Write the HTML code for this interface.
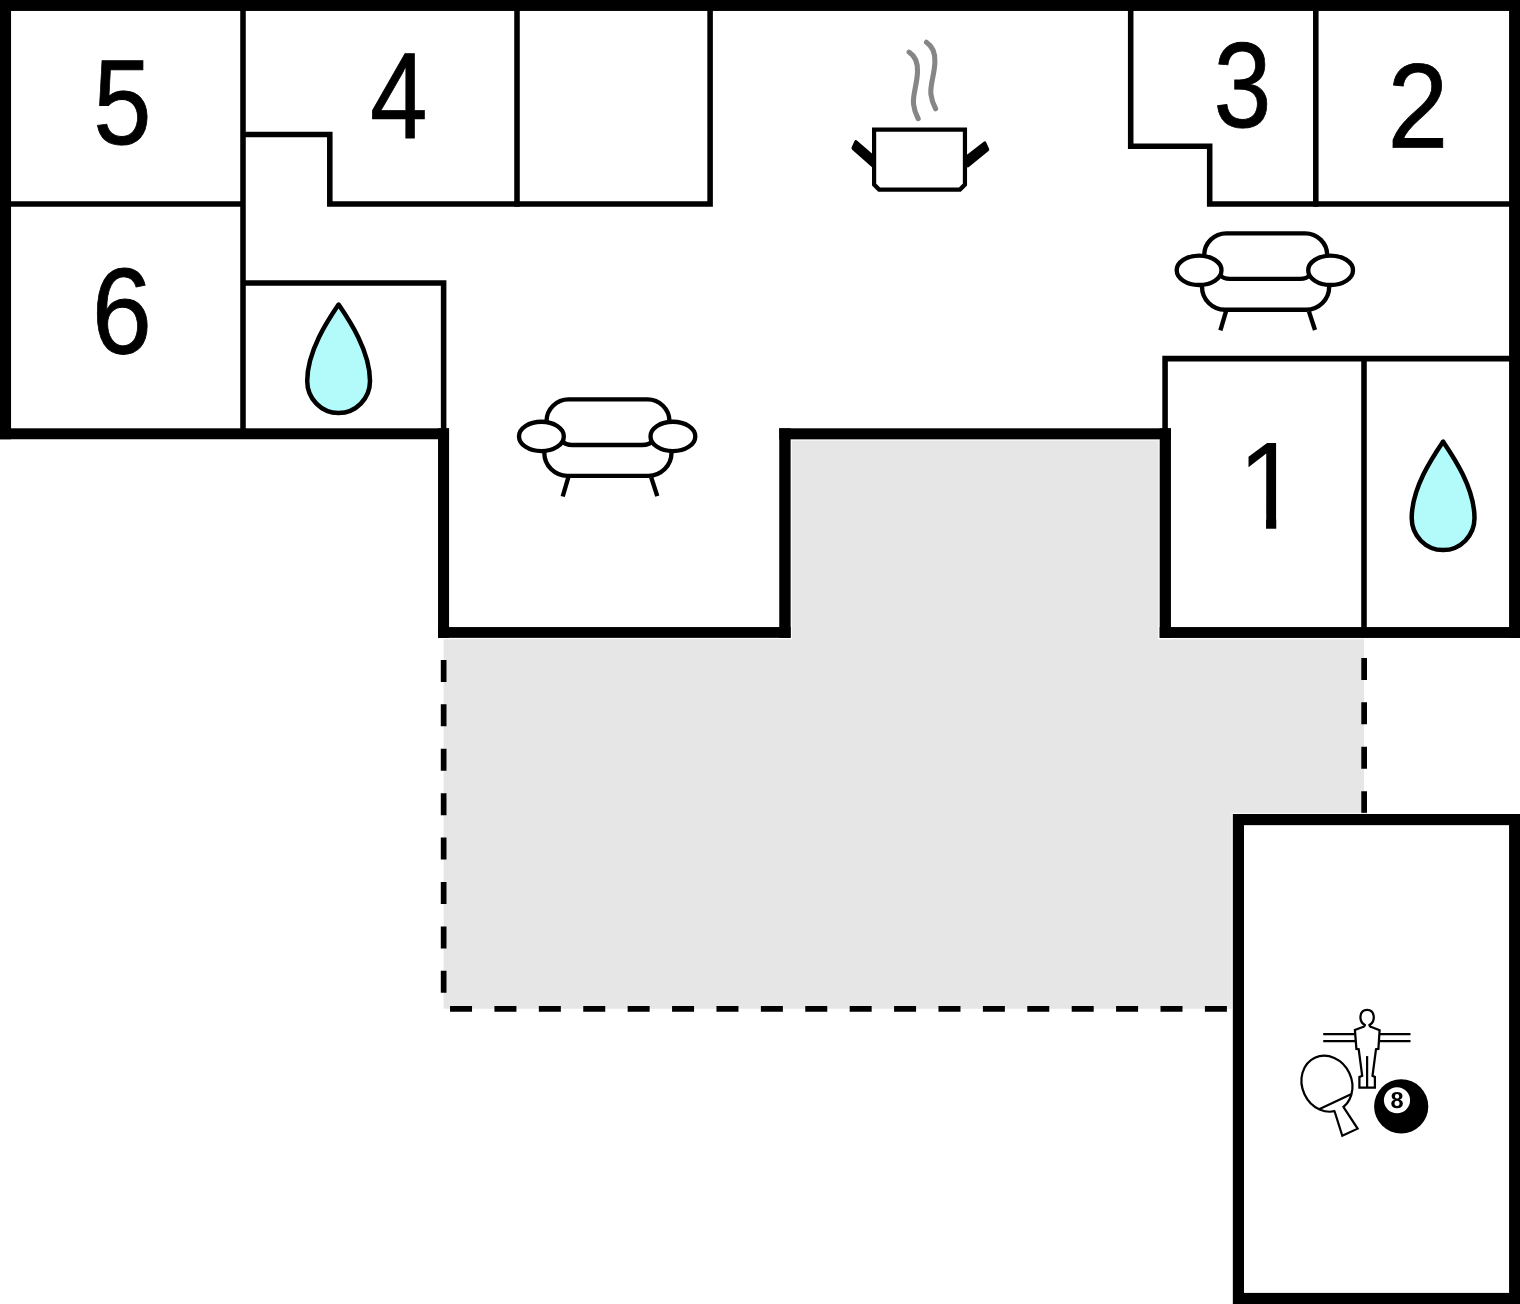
<!DOCTYPE html>
<html>
<head>
<meta charset="utf-8">
<title>Floor plan</title>
<style>
html,body{margin:0;padding:0;background:#fff;}
body{width:1520px;height:1304px;overflow:hidden;}
svg{display:block;}
text{font-family:"Liberation Sans",Arial,sans-serif;fill:#000;}
</style>
</head>
<body>
<svg width="1520" height="1304" viewBox="0 0 1520 1304">
<rect x="0" y="0" width="1520" height="1304" fill="#fff"/>

<!-- terrace -->
<path d="M443.6,632 H785 V434 H1165 V632 H1364.1 V820 H1240 V1008.8 H443.6 Z" fill="#e6e6e6"/>
<path d="M443.65,615.55 V1008.8 H1240" fill="none" stroke="#000" stroke-width="5.7" stroke-dasharray="22 22.404"/>
<path d="M1364.15,657.9 V820" fill="none" stroke="#000" stroke-width="5.7" stroke-dasharray="22 22.42"/>

<!-- game room -->
<rect x="1238.42" y="819.58" width="276.23" height="478.9" fill="#fff" stroke="#fff" stroke-width="13.6" stroke-opacity="0.75"/>
<rect x="1238.42" y="819.58" width="276.23" height="478.9" fill="#fff" stroke="#000" stroke-width="11.16"/>

<!-- thick walls -->
<defs>
<g id="walls">
<rect x="0" y="0" width="1520" height="10.95"/>
<rect x="0" y="0" width="11.05" height="439.25"/>
<rect x="0" y="428.3" width="449.05" height="10.95"/>
<rect x="438.03" y="428.3" width="11.02" height="209.55"/>
<rect x="438.03" y="627.05" width="352.6" height="10.8"/>
<rect x="779.25" y="428.3" width="11.38" height="209.55"/>
<rect x="779.25" y="428.3" width="391.7" height="11.05"/>
<rect x="1159.69" y="428.3" width="11.26" height="209.65"/>
<rect x="1159.69" y="627.05" width="360.31" height="10.9"/>
<rect x="1509.07" y="0" width="10.93" height="637.95"/>
</g>
</defs>
<use href="#walls" fill="#fff" stroke="#fff" stroke-width="2.6" stroke-opacity="0.8"/>
<use href="#walls" fill="#000"/>

<!-- thin walls -->
<g fill="none" stroke="#000" stroke-width="5.55" stroke-linecap="butt" stroke-linejoin="miter">
<path d="M243,8 V430"/>
<path d="M8,204.05 H245"/>
<path d="M243,134.5 H329.8 V204.05 H710.1 V8"/>
<path d="M517,8 V206.8"/>
<path d="M243,283 H443.62 V430"/>
<path d="M1130.7,8 V146.2 H1209.7 V204 H1512"/>
<path d="M1315.8,8 V206.7"/>
<path d="M1165.08,430 V358.6 H1512"/>
<path d="M1364,356 V630"/>
</g>

<!-- numbers -->
<defs><mask id="m8" maskUnits="userSpaceOnUse" x="-20" y="-30" width="40" height="40"><rect x="-20" y="-30" width="40" height="40" fill="#fff"/></mask><clipPath id="c1"><path d="M0,-80 H34.05 V2 H25.1 V-12 H0 Z"/></clipPath></defs>
<g>
<text id="t5" transform="translate(93.18,144.0) rotate(0.03) scale(1.0477,1.2115)" font-size="100" stroke="#000" stroke-width="0.7">5</text>
<text id="t4" transform="translate(369.94,137.87) rotate(0.03) scale(1.0313,1.2253)" font-size="100" stroke="#000" stroke-width="0.7">4</text>
<text id="t6" transform="translate(91.67,353.25) rotate(0.03) scale(1.0820,1.2204)" font-size="100" stroke="#000" stroke-width="0.7">6</text>
<text id="t3" transform="translate(1213.46,126.86) rotate(0.03) scale(1.0415,1.2134)" font-size="100" stroke="#000" stroke-width="0.7">3</text>
<text id="t2" transform="translate(1387.62,147.48) rotate(0.03) scale(1.0931,1.2065)" font-size="100" stroke="#000" stroke-width="0.7">2</text>
<text id="t1" transform="translate(1237.44,528.70) rotate(0.03) scale(1.1400,1.2480)" font-size="100" clip-path="url(#c1)">1</text>
</g>

<!-- water drops -->
<g id="drop1" fill="#b2fbfa" stroke="#000" stroke-width="4.5" stroke-linejoin="round">
<path d="M338.6,304.5 C329.5,318 307.2,350 307.2,381 A31.4,32 0 0 0 370,381 C370,350 347.7,318 338.6,304.5 Z"/>
</g>
<g id="drop2" fill="#b2fbfa" stroke="#000" stroke-width="4.5" stroke-linejoin="round" transform="translate(1104.5,137.1)">
<path d="M338.6,304.5 C329.5,318 307.2,350 307.2,381 A31.4,32 0 0 0 370,381 C370,350 347.7,318 338.6,304.5 Z"/>
</g>

<!-- sofas -->
<g id="sofa2" fill="none" stroke="#000" stroke-width="4.35">
<path d="M1204.2,256 V255 A22,22 0 0 1 1226.2,233.3 H1305.2 A22,22 0 0 1 1327.2,255 V256"/>
<path d="M1202,286 V286.7 A23,23 0 0 0 1225,309.7 H1306.2 A23,23 0 0 0 1329.2,286.7 V286"/>
<path d="M1220,275 Q1223,278.9 1230,278.9 H1300 Q1307,278.9 1310,275"/>
<ellipse cx="1199.1" cy="270.3" rx="22.4" ry="14.7" fill="#fff"/>
<ellipse cx="1330.6" cy="270.3" rx="22.4" ry="14.7" fill="#fff"/>
<path d="M1226,311.3 L1220.4,330.4"/>
<path d="M1308.9,311.3 L1315,330"/>
</g>
<g id="sofa1" fill="none" stroke="#000" stroke-width="4.35" transform="translate(-657.7,166.1)">
<path d="M1204.2,256 V255 A22,22 0 0 1 1226.2,233.3 H1305.2 A22,22 0 0 1 1327.2,255 V256"/>
<path d="M1202,286 V286.7 A23,23 0 0 0 1225,309.7 H1306.2 A23,23 0 0 0 1329.2,286.7 V286"/>
<path d="M1220,275 Q1223,278.9 1230,278.9 H1300 Q1307,278.9 1310,275"/>
<ellipse cx="1199.1" cy="270.3" rx="22.4" ry="14.7" fill="#fff"/>
<ellipse cx="1330.6" cy="270.3" rx="22.4" ry="14.7" fill="#fff"/>
<path d="M1226,311.3 L1220.4,330.4"/>
<path d="M1308.9,311.3 L1315,330"/>
</g>

<!-- cooking pot -->
<g id="pot">
<path d="M874,155.31 L857.23,140.69 Q855.35,139.04 854.33,141.32 L851.65,147.27 Q851.04,148.64 852.2,149.66 L874,168.95 Z" fill="#000"/>
<path d="M965,156.35 L983.40,141.89 Q985.37,140.35 986.39,142.63 L989.08,148.65 Q989.69,150.02 988.53,150.97 L968.9,167.09 Q967.6,168.1 966.3,166.6 L965,166 Z" fill="#000"/>
<path d="M874.1,129.6 H964.95 V184.6 L959.95,189.6 H879.1 L874.1,184.6 Z" fill="#fff" stroke="#000" stroke-width="4.2" stroke-linejoin="miter"/>
<g fill="none" stroke="#868686" stroke-width="5.1" stroke-linecap="round">
<path d="M909.1,52.2 C915,56 918,62 917.5,72 C917,85 912.5,95 913.5,104 C914.2,110 916,114.5 918.2,118.7"/>
<path d="M909.1,52.2 C915,56 918,62 917.5,72 C917,85 912.5,95 913.5,104 C914.2,110 916,114.5 918.2,118.7" transform="translate(17.4,-9.9)"/>
</g>
</g>

<!-- games -->
<g id="games">
<!-- foosball -->
<g fill="none" stroke="#000" stroke-width="2.25">
<path d="M1323.2,1034 H1354.5 M1323.2,1041.1 H1355 M1380,1034 H1410.5 M1379.5,1041.1 H1410.5"/>
<path d="M1364.9,1025 C1358,1021 1359.5,1009.9 1367.1,1009.9 C1374.7,1009.9 1376.2,1021 1369.4,1025 C1369.6,1026.2 1370,1026.6 1370.8,1026.8 L1379.6,1030.2 L1378.4,1048.9 L1376,1049.2 L1372.5,1075.8 L1374.9,1077 V1087.5 H1359.4 V1077 L1362.2,1075.8 L1358.7,1049.2 L1356.4,1048.9 L1354.9,1029.9 L1363.5,1026.8 C1364.4,1026.6 1364.8,1026.2 1364.9,1025 Z" fill="#fff" stroke-linejoin="miter"/>
<path d="M1367.1,1056.1 V1087.2"/>
</g>
<!-- paddle -->
<g transform="translate(1326.95,1083.7) rotate(-25)" fill="#fff" stroke="#000" stroke-width="2.2" stroke-linejoin="miter">
<ellipse cx="0" cy="0" rx="24.8" ry="28.6"/>
<path d="M-17.9,19.8 H17.9" fill="none"/>
<path d="M-3.6,26.4 H4 L4.4,30.5 H-4 Z" stroke="none"/>
<path d="M-4.7,27.9 L-8.1,53.7 H8.8 L5.1,27.9"/>
</g>
<!-- 8 ball -->
<circle cx="1401.2" cy="1106.4" r="27.1" fill="#000"/>
<circle cx="1397.0" cy="1100.3" r="13.05" fill="#fff"/>
<text transform="translate(1397.05,1108.0) rotate(0.05) scale(1.12,1.10)" font-size="21" font-weight="bold" text-anchor="middle" mask="url(#m8)" id="t8">8</text>
</g>
</svg>
</body>
</html>
